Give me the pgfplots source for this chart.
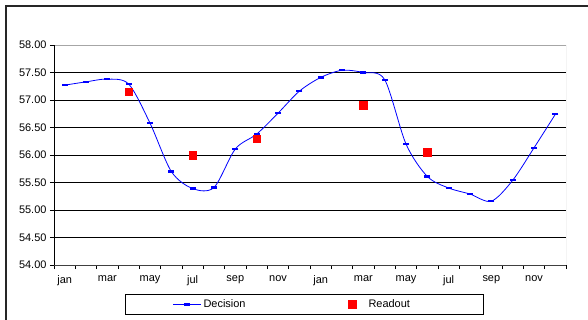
\documentclass[border=0pt]{standalone}
\usepackage{pgfplots}
\pgfplotsset{compat=1.18}
\usepackage{fontspec}
\setmainfont{Liberation Sans}
\definecolor{decblue}{RGB}{0,0,255}
\definecolor{readred}{RGB}{255,0,0}
\pgfplotsset{
  declegend/.style={legend image code/.code={\draw[##1, mark=none] (0bp,0bp) -- (28bp,0bp); \draw[##1, only marks] plot coordinates {(14bp,0bp)};}},
  readlegend/.style={legend image code/.code={\path[draw=none, fill=none] (0bp,0bp) -- (28bp,0bp); \draw[##1, only marks] plot coordinates {(14bp,0bp)};}},
}
\begin{document}
\begin{tikzpicture}
\path[use as bounding box] (-54bp,-55bp) rectangle (534bp,265bp);
\draw[line width=1.2bp, black!85] (-48bp,-60bp) -- (-48bp,259bp) -- (540bp,259bp);
\begin{axis}[
  at={(0bp,0bp)}, anchor=south west,
  width=512bp, height=220bp, scale only axis,
  xmin=0, xmax=24, ymin=54, ymax=58,
  xtick={0,1,...,24}, xticklabels={},
  extra x ticks={0.5,2.5,4.5,6.5,8.5,10.5,12.5,14.5,16.5,18.5,20.5,22.5},
  extra x tick labels={jan,mar,may,jul,sep,nov,jan,mar,may,jul,sep,nov},
  extra x tick style={major tick length=0pt, xmajorgrids=false, tick label style={yshift=-7bp}},
  ytick={54,54.5,55,55.5,56,56.5,57,57.5,58},
  yticklabel style={/pgf/number format/.cd, fixed, fixed zerofill, precision=2},
  /pgf/number format/assume math mode=true,
  tick label style={font=\fontsize{11}{13}\selectfont, black},
  tick align=outside, xtick pos=bottom, ytick pos=left,
  major tick length=4bp,
  tick style={black, line width=0.7bp},
  ymajorgrids, xmajorgrids=false,
  major grid style={black, line width=0.7bp},
  axis line style={draw=none},
  legend columns=2,
  legend style={at={(0.489,-0.18)}, anchor=center, draw=black, line width=0.8bp,
    font=\fontsize{11}{13}\selectfont, inner xsep=47bp, inner ysep=3bp,
    /tikz/every even column/.append style={column sep=91bp}},
]
\addplot[color=decblue, line width=0.8bp, smooth, mark=-, mark size=3bp,
  mark options={line width=2.2bp}, declegend]
coordinates {
(0.5,57.27) (1.5,57.33) (2.5,57.38) (3.5,57.29) (4.5,56.58) (5.5,55.70)
(6.5,55.39) (7.5,55.41) (8.5,56.11) (9.5,56.38) (10.5,56.76) (11.5,57.16)
(12.5,57.41) (13.5,57.54) (14.5,57.50) (15.5,57.37) (16.5,56.20) (17.5,55.61)
(18.5,55.40) (19.5,55.29) (20.5,55.16) (21.5,55.54) (22.5,56.13) (23.5,56.74)
};
\addlegendentry{Decision}
\addplot[only marks, mark=square*, mark size=3.8bp, color=readred, readlegend]
coordinates {
(3.5,57.15) (6.5,56.00) (9.5,56.30) (14.5,56.91) (17.5,56.05)
};
\addlegendentry{Readout\hspace*{24bp}\mbox{}}
\draw[gray!70, line width=1bp] (rel axis cs:0,1) -- (rel axis cs:1,1) -- (rel axis cs:1,0);
\draw[black, line width=0.8bp] (rel axis cs:0,1) -- (rel axis cs:0,0);
\draw[black!75, line width=0.9bp] (rel axis cs:0,0) -- (rel axis cs:1,0);
\end{axis}
\end{tikzpicture}
\end{document}
